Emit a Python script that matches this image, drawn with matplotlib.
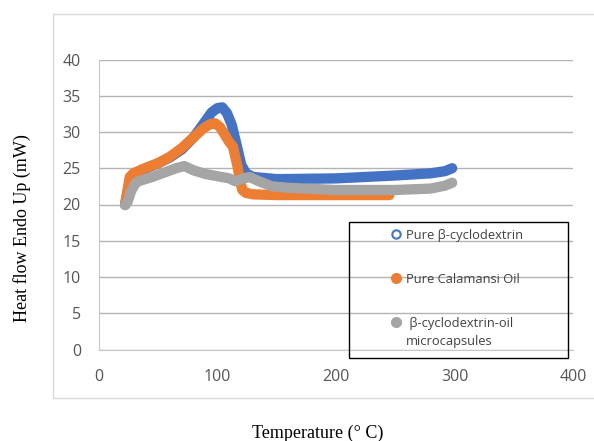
import matplotlib.pyplot as plt
from matplotlib.lines import Line2D
from matplotlib.patches import Rectangle

# data
temp_cd = [22, 25, 28, 32, 40, 50, 60, 70, 80, 88, 95, 100, 104, 108, 112, 116, 120, 124, 130, 150, 200, 250, 280, 292, 298]
heat_cd = [20.0, 22.5, 23.6, 24.3, 25.0, 25.7, 26.5, 27.6, 29.3, 31.1, 32.7, 33.3, 33.4, 32.6, 31.0, 28.3, 25.5, 24.3, 23.8, 23.5, 23.6, 24.0, 24.3, 24.6, 25.0]

temp_oil = [22, 26, 29, 33, 40, 50, 60, 70, 80, 88, 94, 98, 102, 107, 110, 113, 117, 119, 121, 124, 130, 150, 200, 245]
heat_oil = [20.0, 23.8, 24.3, 24.6, 25.1, 25.7, 26.6, 27.8, 29.3, 30.5, 31.1, 31.2, 30.7, 29.4, 28.6, 28.0, 25.2, 23.2, 22.0, 21.6, 21.4, 21.3, 21.3, 21.3]

temp_mc = [22, 24, 27, 31, 35, 45, 55, 65, 72, 80, 90, 100, 110, 115, 120, 127, 135, 146, 160, 200, 250, 280, 292, 298]
heat_mc = [19.9, 20.3, 21.8, 23.0, 23.3, 23.8, 24.4, 25.0, 25.3, 24.7, 24.2, 23.9, 23.6, 23.2, 23.5, 23.8, 23.2, 22.5, 22.3, 22.0, 22.0, 22.2, 22.6, 23.0]

labels = ["Pure \u03b2-cyclodextrin", "Pure Calamansi Oil", " \u03b2-cyclodextrin-oil"]
label_extra = "microcapsules"
colors = ["#4472C4", "#ED7D31", "#A5A5A5"]

W, H = 594, 441
fig = plt.figure(figsize=(W / 100, H / 100), dpi=100)
ax = fig.add_axes([99 / W, 1 - 349.5 / H, 474 / W, 290 / H])

for t, h, c in zip([temp_cd, temp_oil, temp_mc], [heat_cd, heat_oil, heat_mc], colors):
    ax.plot(t, h, color=c, lw=7.4, solid_capstyle='round', solid_joinstyle='round')

ax.set_xlim(0, 400)
ax.set_ylim(0, 40)
ax.set_xticks([0, 100, 200, 300, 400])
ax.set_yticks(range(0, 45, 5))
ax.yaxis.grid(True, color='#b3b3b3', lw=1)
ax.set_axisbelow(True)
for s in ['top', 'right']:
    ax.spines[s].set_visible(False)
for s in ['left', 'bottom']:
    ax.spines[s].set_color('#c8c8c8')
ax.tick_params(length=0, labelsize=11.5, labelcolor='#555555')
ax.tick_params(axis='y', pad=13)
ax.tick_params(axis='x', pad=14)
for lab in ax.get_xticklabels() + ax.get_yticklabels():
    lab.set_family('Open Sans')

ax.set_ylabel("Heat flow Endo Up (mW)", family='Liberation Serif', fontsize=13, va='center')
ax.yaxis.set_label_coords((22 - 99) / 474, (349.5 - 228) / 290)
ax.set_xlabel("Temperature (\u00b0 C)", family='Liberation Serif', fontsize=13, va='center')
ax.xaxis.set_label_coords((318 - 99) / 474, (349.5 - 433) / 290)

# outer chart area border
fig.patches.append(Rectangle((53 / W, 1 - 398 / H), 1, (398 - 14) / H, transform=fig.transFigure,
                             fill=False, ec='#d9d9d9', lw=1))

# legend
handles = [Line2D([], [], ls='none', marker='o', ms=6, mfc='white', mec=colors[0], mew=1.5),
           Line2D([], [], ls='none', marker='o', ms=7, mfc=colors[1], mec=colors[1]),
           Line2D([], [], ls='none', marker='o', ms=7, mfc=colors[2], mec=colors[2])]
leg = fig.legend(handles, labels, loc='upper left', bbox_to_anchor=(390 / W, 1 - 229 / H),
                 frameon=False, handlelength=1, handletextpad=0.2, labelspacing=2.4,
                 borderpad=0, borderaxespad=0,
                 prop={'family': 'Open Sans', 'size': 9.3})
for tx in leg.get_texts():
    tx.set_color('#404040')

# second line of the last legend label, placed under the first
fig.canvas.draw()
bb = leg.get_texts()[2].get_window_extent()
fig.text(bb.x0 / W, (bb.y0 - 5) / H, label_extra, family='Open Sans', size=9.3,
         color='#404040', ha='left', va='top')

fig.patches.append(Rectangle((349 / W, 1 - 358 / H), 219 / W, 136 / H, transform=fig.transFigure,
                             fill=False, ec='black', lw=1))

fig.savefig('out.png', dpi=100)
